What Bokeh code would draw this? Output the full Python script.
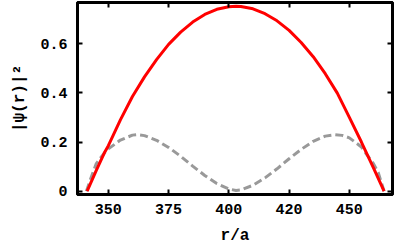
from bokeh.plotting import figure
from bokeh.models import LinearAxis, FixedTicker, Range1d
from bokeh.embed import file_html
from bokeh.resources import INLINE

# r/a positions and |psi(r)|^2 values
r_red = [341.2, 345, 348.3, 350, 355, 360, 365, 370, 375, 380, 385, 390, 395, 400,
         403, 405, 410, 415, 420, 425, 430, 435, 440, 445, 450, 455, 460, 464.4]
psi_red = [0.0, 0.085, 0.155, 0.185, 0.290, 0.385, 0.465, 0.535, 0.597, 0.647, 0.688,
           0.719, 0.740, 0.750, 0.752, 0.751, 0.742, 0.722, 0.693, 0.654, 0.605, 0.547,
           0.478, 0.399, 0.300, 0.200, 0.095, 0.0]

r_gray = [340.9, 343, 345, 348.3, 350, 355, 360, 362, 365, 370, 375, 380, 385, 390,
          395, 400, 403, 405, 410, 415, 420, 425, 430, 435, 440, 444, 447, 450, 455,
          457, 460, 462, 464.4]
psi_gray = [0.0, 0.060, 0.112, 0.155, 0.172, 0.208, 0.228, 0.230, 0.226, 0.207, 0.178,
            0.142, 0.102, 0.064, 0.031, 0.009, 0.003, 0.005, 0.024, 0.054, 0.091, 0.132,
            0.170, 0.203, 0.224, 0.230, 0.227, 0.217, 0.180, 0.152, 0.112, 0.075, 0.0]

x_ticks = [350, 375, 400, 425, 450]
x_tick_labels = ["350", "375", "400", "420", "450"]
y_ticks = [0, 0.2, 0.4, 0.6]
y_tick_labels = ["0", "0.2", "0.4", "0.6"]

FONT = "Liberation Mono"

p = figure(width=400, height=247, output_backend="svg", toolbar_location=None,
           x_range=Range1d(337.2, 467.9), y_range=Range1d(-0.0135, 0.7675),
           min_border_left=77, min_border_right=8, min_border_top=2, min_border_bottom=52)
p.grid.visible = False
p.outline_line_color = "black"
p.outline_line_width = 3
p.background_fill_color = "white"
p.border_fill_color = "white"

def style_axis(ax, ticks, labels, show_labels=True):
    ax.ticker = FixedTicker(ticks=ticks)
    ax.major_label_overrides = {t: l for t, l in zip(ticks, labels)} if show_labels else {t: "" for t in ticks}
    ax.major_tick_in = 5
    ax.major_tick_out = 0
    ax.minor_tick_line_color = None
    ax.major_tick_line_width = 2
    ax.major_tick_line_color = "black"
    ax.axis_line_width = 3
    ax.axis_line_color = "black"
    ax.major_label_text_font = FONT
    ax.major_label_text_font_style = "bold"
    ax.major_label_text_font_size = "15px"
    ax.major_label_text_color = "black"
    ax.axis_label_text_font = FONT
    ax.axis_label_text_font_style = "bold"
    ax.axis_label_text_font_size = "16px"
    ax.axis_label_text_color = "black"

style_axis(p.xaxis[0], x_ticks, x_tick_labels)
p.xaxis[0].axis_label = "r/a"
p.xaxis[0].major_label_standoff = 9
p.xaxis[0].axis_label_standoff = 10

style_axis(p.yaxis[0], y_ticks, y_tick_labels)
p.yaxis[0].axis_label = "|ψ(r)|²"
p.yaxis[0].major_label_standoff = 10
p.yaxis[0].axis_label_standoff = 8

top = LinearAxis()
style_axis(top, x_ticks, x_tick_labels, show_labels=False)
top.major_label_text_font_size = "0px"
top.major_label_standoff = 0
p.add_layout(top, "above")

right = LinearAxis()
style_axis(right, y_ticks, y_tick_labels, show_labels=False)
right.major_label_text_font_size = "0px"
right.major_label_standoff = 0
p.add_layout(right, "right")

p.line(r_gray, psi_gray, line_color="#999999", line_width=3, line_dash="8 4")
p.line(r_red, psi_red, line_color="red", line_width=3)

open("out.html", "w").write(file_html(p, INLINE))
